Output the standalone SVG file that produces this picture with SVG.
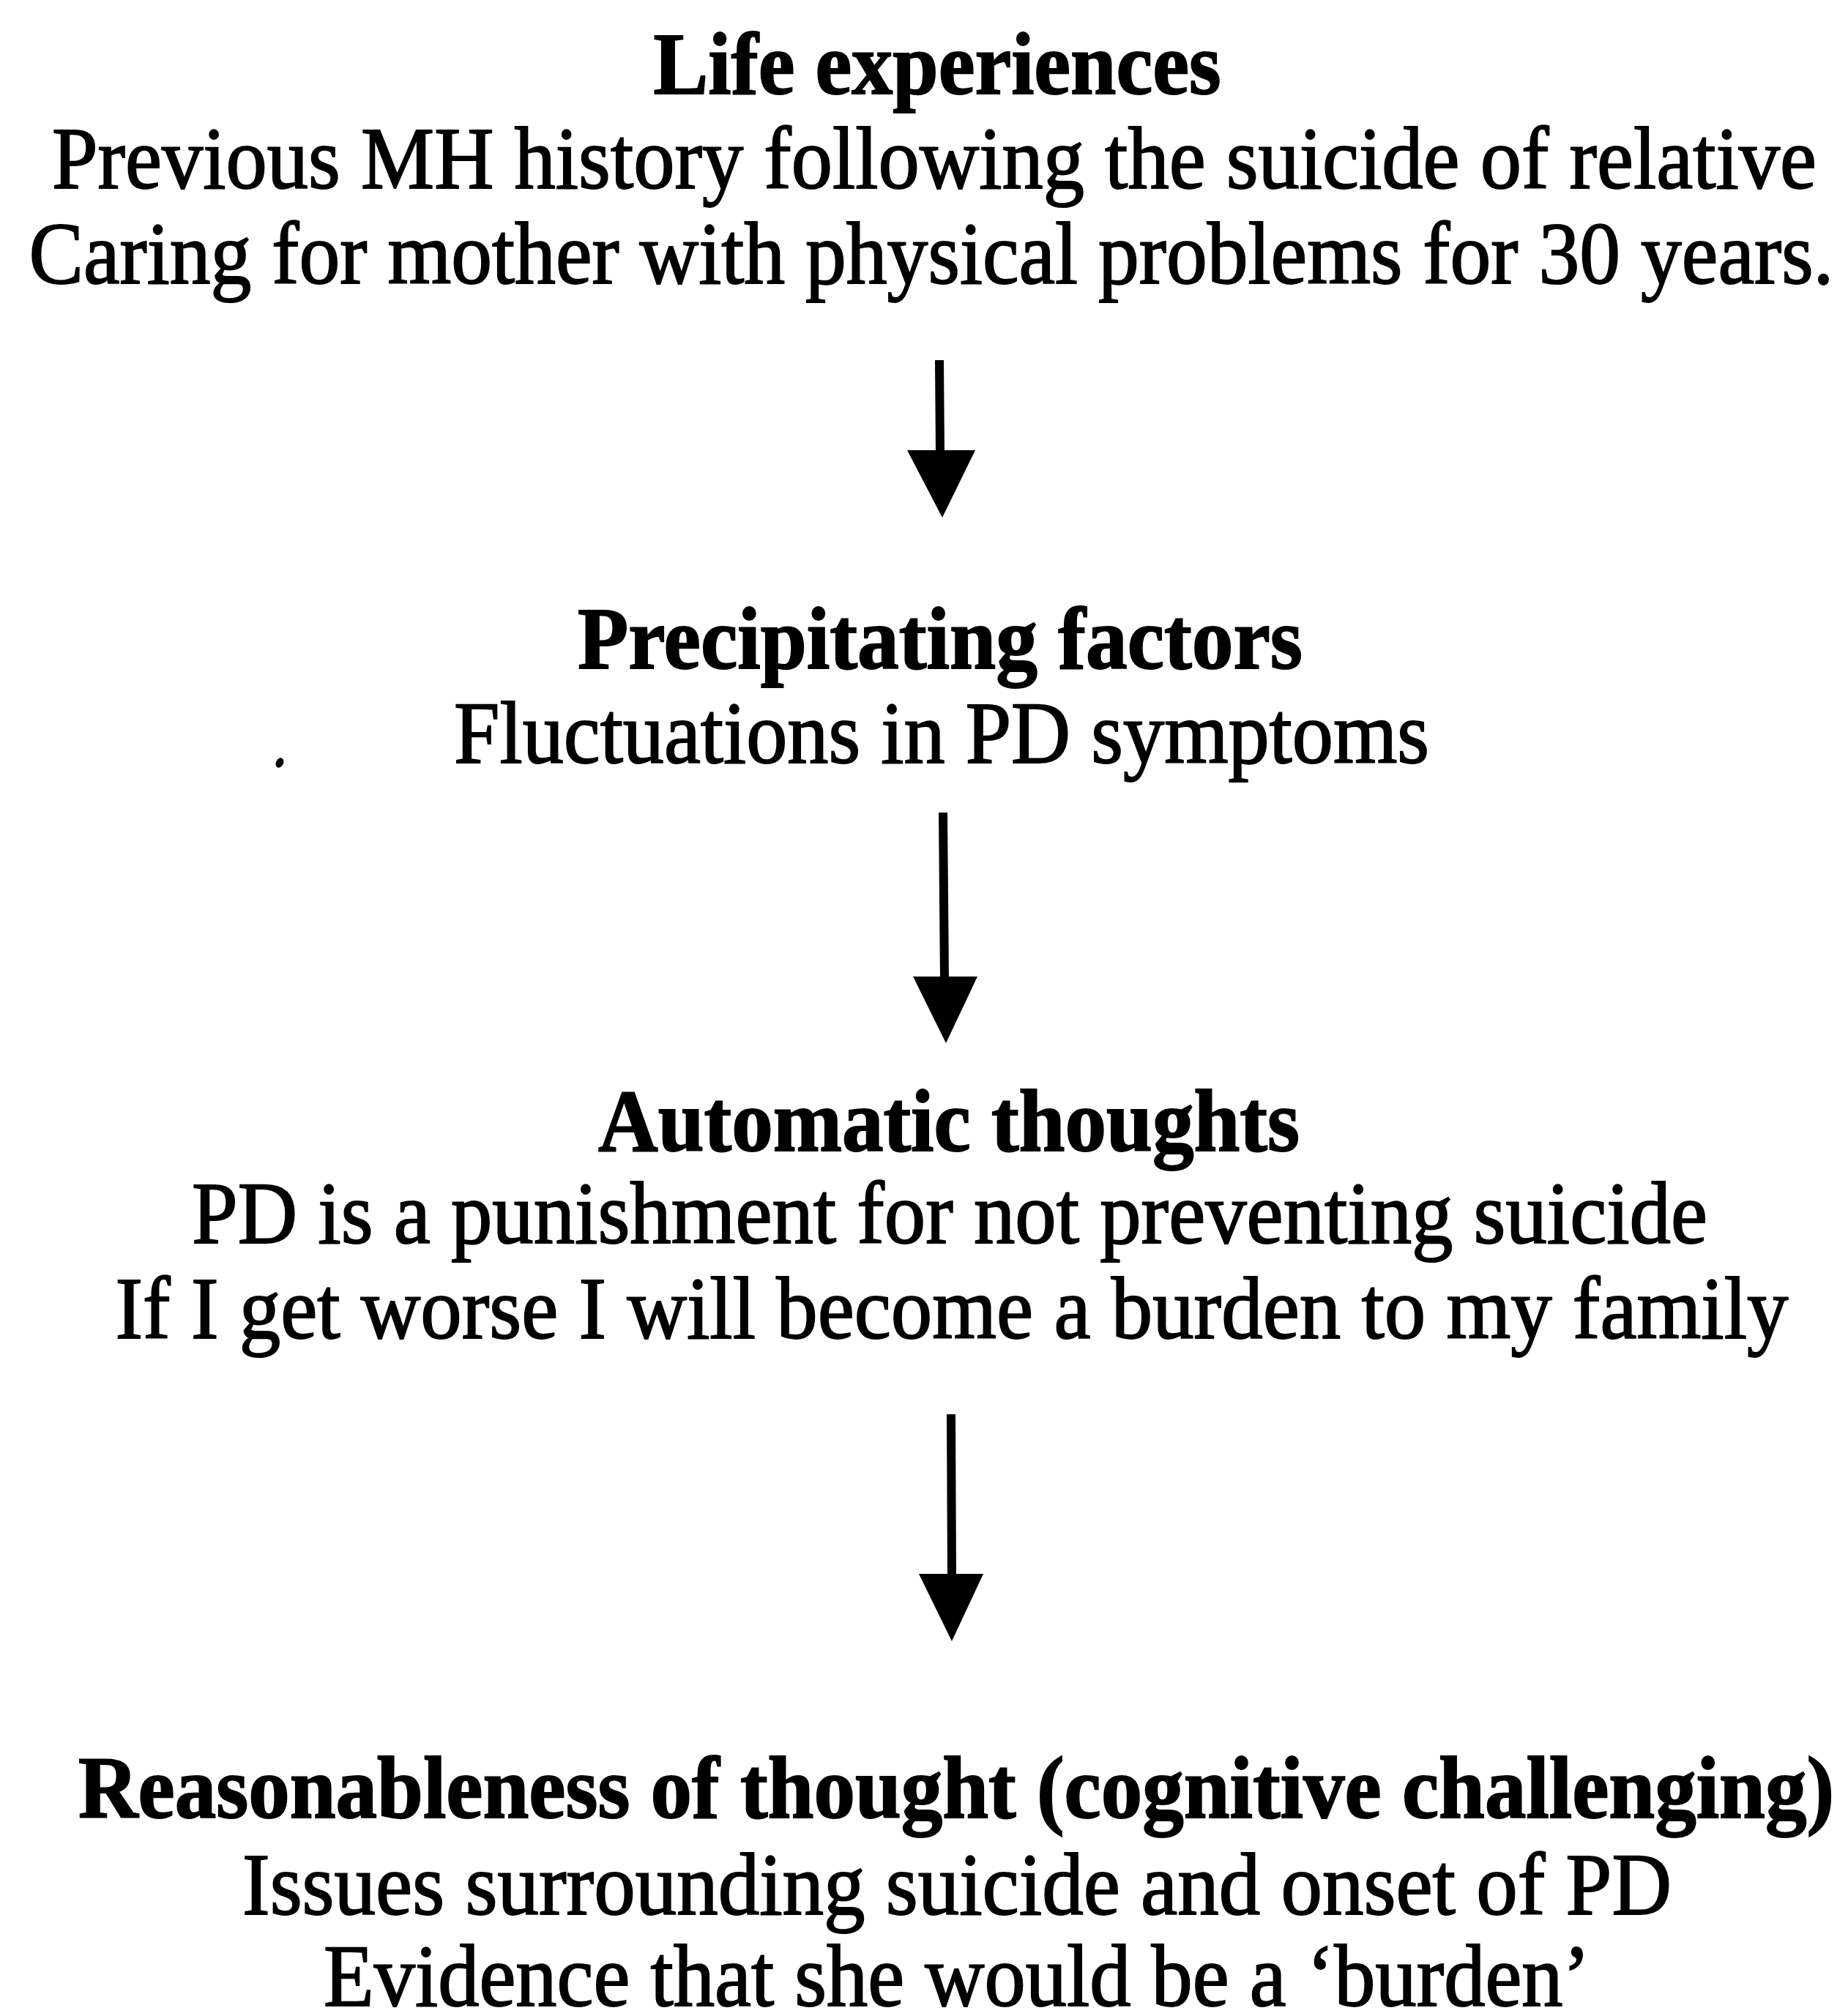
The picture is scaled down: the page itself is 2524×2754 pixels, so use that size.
<svg xmlns="http://www.w3.org/2000/svg" width="2524" height="2754" viewBox="0 0 2524 2754">
<style>
text{font-family:"Liberation Serif","Times New Roman",serif;font-size:113px;fill:#000;text-anchor:middle;stroke:#000;stroke-width:1.8px}
.b{font-weight:bold}
.shaft{stroke:#000;stroke-width:12;fill:none}
.head{fill:#000}
</style>
<rect x="0" y="0" width="2524" height="2754" fill="#fff"/>
<g id="node-life">
<text class="b" transform="translate(1280 128) scale(1 1.06)" textLength="775" lengthAdjust="spacingAndGlyphs">Life experiences</text>
<text transform="translate(1276 257) scale(1 1.06)" textLength="2410" lengthAdjust="spacingAndGlyphs">Previous MH history following the suicide of relative</text>
<text transform="translate(1272 387) scale(1 1.06)" textLength="2465" lengthAdjust="spacingAndGlyphs">Caring for mother with physical problems for 30 years.</text>
</g>
<g id="node-precipitating">
<text class="b" transform="translate(1284 913) scale(1 1.06)" textLength="990" lengthAdjust="spacingAndGlyphs">Precipitating factors</text>
<text transform="translate(1286 1042) scale(1 1.06)" textLength="1332" lengthAdjust="spacingAndGlyphs">Fluctuations in PD symptoms</text>
</g>
<g id="node-automatic">
<text class="b" transform="translate(1296 1572) scale(1 1.06)" textLength="958" lengthAdjust="spacingAndGlyphs">Automatic thoughts</text>
<text transform="translate(1297 1698) scale(1 1.06)" textLength="2070" lengthAdjust="spacingAndGlyphs">PD is a punishment for not preventing suicide</text>
<text transform="translate(1300 1828) scale(1 1.06)" textLength="2285" lengthAdjust="spacingAndGlyphs">If I get worse I will become a burden to my family</text>
</g>
<g id="node-reasonableness">
<text class="b" transform="translate(1306 2483) scale(1 1.06)" textLength="2398" lengthAdjust="spacingAndGlyphs">Reasonableness of thought (cognitive challenging)</text>
<text transform="translate(1307 2615) scale(1 1.06)" textLength="1952" lengthAdjust="spacingAndGlyphs">Issues surrounding suicide and onset of PD</text>
<text transform="translate(1307 2740) scale(1 1.06)" textLength="1730" lengthAdjust="spacingAndGlyphs">Evidence that she would be a ‘burden’</text>
</g>
<g id="connectors">
<line class="shaft" x1="1283" y1="492" x2="1284" y2="620"/>
<polygon class="head" points="1239,615 1332,615 1287,707"/>
<line class="shaft" x1="1288" y1="1110" x2="1290" y2="1340"/>
<polygon class="head" points="1247,1334 1335,1334 1292,1425"/>
<line class="shaft" x1="1299" y1="1932" x2="1300" y2="2155"/>
<polygon class="head" points="1255,2150 1343,2150 1300,2242"/>
</g>
<ellipse cx="382" cy="1042" rx="5" ry="7" transform="rotate(25 382 1042)" fill="#000"/>
</svg>
